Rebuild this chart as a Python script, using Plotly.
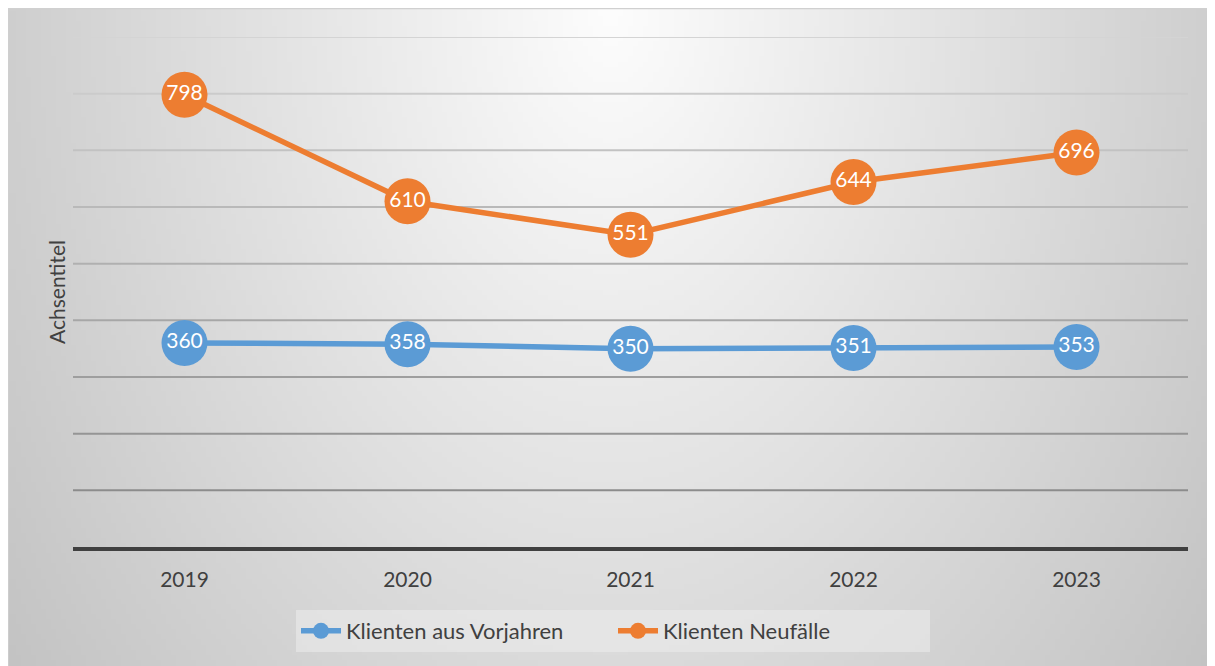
import base64, struct, zlib
import plotly.graph_objects as go

years = ["2019", "2020", "2021", "2022", "2023"]
vorjahre = [360, 358, 350, 351, 353]
neufaelle = [798, 610, 551, 644, 696]
series_names = ["Klienten aus Vorjahren", "Klienten Neufälle"]
y_title = "Achsentitel"
grid_values = [100, 200, 300, 400, 500, 600, 700, 800, 900]

BLUE = "#5B9BD5"
ORANGE = "#ED7D31"
FONT = "Lato"


def gradient_png(w, h):
    rows = []
    for j in range(h):
        ay = j / (h - 1)
        row = bytearray([0])
        for i in range(w):
            ax = abs(i / (w - 1) - 0.5) / 0.5
            d = (ax ** 2 + (0.75 * ay) ** 2) ** 0.5
            g = int(max(190, min(253, 253 - 46 * d)))
            row.append(g)
        rows.append(bytes(row))
    raw = b"".join(rows)

    def chunk(tag, data):
        c = tag + data
        return struct.pack(">I", len(data)) + c + struct.pack(">I", zlib.crc32(c) & 0xFFFFFFFF)

    png = b"\x89PNG\r\n\x1a\n"
    png += chunk(b"IHDR", struct.pack(">IIBBBBB", w, h, 8, 0, 0, 0, 0))
    png += chunk(b"IDAT", zlib.compress(raw, 9))
    png += chunk(b"IEND", b"")
    return "data:image/png;base64," + base64.b64encode(png).decode()


# page body has an 8px margin; work in figure coordinates = window - 8
OFF = 8
W, H = 1215 - OFF, 666 - OFF
L = 73 - OFF
T = 37 - OFF
R = W - (1188 - OFF)
B = H - (547 - OFF)
pw, ph = W - L - R, H - T - B


def px_x(px):  # window px -> paper
    return (px - OFF - L) / pw


def px_y(py):
    return (H - B - (py - OFF)) / ph


fig = go.Figure()

for name, vals, col in [(series_names[0], vorjahre, BLUE), (series_names[1], neufaelle, ORANGE)]:
    fig.add_trace(go.Scatter(
        x=years, y=vals, name=name,
        mode="lines+markers+text",
        line=dict(color=col, width=5.5),
        marker=dict(color=col, size=46, line=dict(width=0)),
        text=[str(v) for v in vals],
        textposition="middle center",
        textfont=dict(color="white", size=21, family=FONT),
        cliponaxis=False,
    ))

shapes = []
for gv in grid_values:
    t = (gv - 100) / 800.0
    g = int(140 + (212 - 140) * t)
    shapes.append(dict(type="line", xref="paper", yref="y", x0=0, x1=1, y0=gv, y1=gv,
                       line=dict(color=f"rgb({g},{g},{g})", width=2), layer="below"))
shapes.append(dict(type="rect", xref="paper", yref="paper",
                   x0=px_x(8), x1=px_x(1213),
                   y0=px_y(668), y1=px_y(8.5),
                   line=dict(color="#D0D0D0", width=1.5), fillcolor="rgba(0,0,0,0)", layer="below"))

fig.update_layout(
    width=W, height=H,
    margin=dict(l=L, r=R, t=T, b=B),
    paper_bgcolor="white",
    plot_bgcolor="rgba(0,0,0,0)",
    font=dict(family=FONT, color="#404040"),
    showlegend=True,
    legend=dict(
        orientation="h",
        x=px_x(613), y=px_y(631),
        xanchor="center", yanchor="middle",
        bgcolor="rgba(235,235,235,0.6)",
        font=dict(size=22, color="#404040", family=FONT),
        itemwidth=40,
        entrywidth=262,
    ),
    images=[dict(
        source=gradient_png(240, 130),
        xref="paper", yref="paper",
        x=px_x(8), y=px_y(8),
        sizex=px_x(1213) - px_x(8),
        sizey=px_y(8) - px_y(667),
        xanchor="left", yanchor="top",
        sizing="stretch", layer="below",
    )],
    shapes=shapes,
)

fig.update_xaxes(
    type="category", range=[-0.5, 4.5],
    showgrid=False, zeroline=False,
    showline=True, linecolor="#404040", linewidth=4,
    ticks="", ticklabelstandoff=11,
    tickfont=dict(size=21, color="#404040", family=FONT),
)
fig.update_yaxes(
    range=[0, 900], showgrid=False, zeroline=False,
    showticklabels=False, ticks="",
    title=dict(text=y_title, font=dict(size=21, color="#404040", family=FONT), standoff=0),
)

fig.write_html("out.html")
